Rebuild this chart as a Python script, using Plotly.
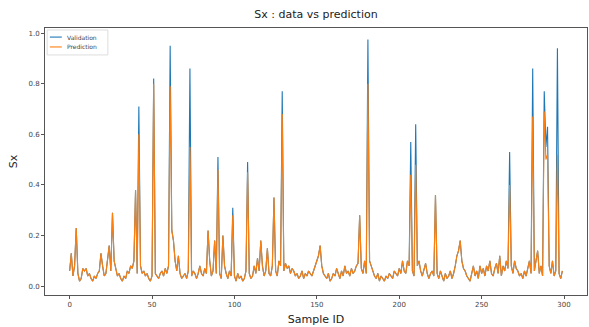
import plotly.graph_objects as go

sample_id = list(range(300))

validation = [
    0.06, 0.13, 0.04, 0.08, 0.23, 0.05, 0.02, 0.03, 0.07, 0.06,
    0.07, 0.04, 0.05, 0.03, 0.02, 0.04, 0.03, 0.05, 0.06, 0.13,
    0.08, 0.04, 0.05, 0.11, 0.16, 0.06, 0.29, 0.10, 0.07, 0.04,
    0.05, 0.03, 0.02, 0.04, 0.03, 0.06, 0.05, 0.08, 0.07, 0.10,
    0.38, 0.05, 0.71, 0.08, 0.05, 0.06, 0.04, 0.05, 0.03, 0.02,
    0.04, 0.82, 0.05, 0.04, 0.03, 0.05, 0.06, 0.04, 0.07, 0.05,
    0.08, 0.95, 0.22, 0.18, 0.10, 0.06, 0.12, 0.05, 0.03, 0.04,
    0.05, 0.03, 0.06, 0.86, 0.04, 0.06, 0.05, 0.03, 0.05, 0.08,
    0.05, 0.04, 0.07, 0.05, 0.22, 0.10, 0.04, 0.06, 0.18, 0.05,
    0.51, 0.05, 0.03, 0.20, 0.08, 0.05, 0.03, 0.06, 0.04, 0.31,
    0.04, 0.02, 0.05, 0.03, 0.04, 0.02, 0.03, 0.06, 0.49, 0.05,
    0.03, 0.04, 0.08, 0.05, 0.11, 0.06, 0.18, 0.08, 0.04, 0.06,
    0.15, 0.05, 0.04, 0.08, 0.35, 0.06, 0.04, 0.10, 0.08, 0.77,
    0.06, 0.09, 0.07, 0.08, 0.05, 0.07, 0.06, 0.04, 0.05, 0.03,
    0.04, 0.06, 0.03, 0.05, 0.04, 0.06, 0.05, 0.04, 0.06, 0.08,
    0.10, 0.12, 0.16, 0.08, 0.05, 0.04, 0.03, 0.05, 0.02, 0.03,
    0.05, 0.04, 0.07, 0.05, 0.03, 0.06, 0.04, 0.08, 0.05, 0.06,
    0.04, 0.07, 0.05, 0.06, 0.08, 0.09, 0.28, 0.07, 0.05, 0.10,
    0.05, 0.975, 0.10, 0.08, 0.06, 0.04, 0.03, 0.05, 0.02, 0.04,
    0.03, 0.02, 0.04, 0.03, 0.05, 0.04, 0.03, 0.06, 0.05, 0.04,
    0.07, 0.05, 0.10, 0.06, 0.05, 0.10, 0.08, 0.57, 0.06, 0.04,
    0.64, 0.08, 0.10, 0.06, 0.04, 0.07, 0.09, 0.05, 0.03, 0.05,
    0.06, 0.04, 0.36, 0.05, 0.03, 0.06, 0.04, 0.02, 0.05, 0.03,
    0.04, 0.06, 0.03, 0.05, 0.08, 0.12, 0.14, 0.18, 0.10, 0.07,
    0.06, 0.04, 0.03, 0.02, 0.05, 0.08, 0.04, 0.06, 0.03, 0.08,
    0.05, 0.07, 0.04, 0.08, 0.06, 0.10, 0.05, 0.04, 0.07, 0.09,
    0.05, 0.12, 0.04, 0.08, 0.06, 0.10, 0.07, 0.53, 0.08, 0.05,
    0.10, 0.07, 0.06, 0.04, 0.05, 0.03, 0.06, 0.04, 0.07, 0.10,
    0.05, 0.86, 0.06, 0.10, 0.14, 0.05, 0.08, 0.04, 0.77, 0.55,
    0.63, 0.08, 0.05, 0.10, 0.04, 0.06, 0.94, 0.05, 0.03, 0.06,
]

prediction = [
    0.06, 0.13, 0.04, 0.08, 0.23, 0.05, 0.02, 0.03, 0.07, 0.06,
    0.07, 0.04, 0.05, 0.03, 0.02, 0.04, 0.03, 0.05, 0.06, 0.13,
    0.08, 0.04, 0.05, 0.11, 0.16, 0.06, 0.29, 0.10, 0.07, 0.04,
    0.05, 0.03, 0.02, 0.04, 0.03, 0.06, 0.05, 0.08, 0.07, 0.10,
    0.38, 0.05, 0.60, 0.08, 0.05, 0.06, 0.04, 0.05, 0.03, 0.02,
    0.04, 0.80, 0.05, 0.04, 0.03, 0.05, 0.06, 0.04, 0.07, 0.05,
    0.08, 0.79, 0.22, 0.18, 0.10, 0.06, 0.12, 0.05, 0.03, 0.04,
    0.05, 0.03, 0.06, 0.55, 0.04, 0.06, 0.05, 0.03, 0.05, 0.08,
    0.05, 0.04, 0.07, 0.05, 0.22, 0.10, 0.04, 0.06, 0.18, 0.05,
    0.46, 0.05, 0.03, 0.20, 0.08, 0.05, 0.03, 0.06, 0.04, 0.28,
    0.04, 0.02, 0.05, 0.03, 0.04, 0.02, 0.03, 0.06, 0.45, 0.05,
    0.03, 0.04, 0.08, 0.05, 0.11, 0.06, 0.18, 0.08, 0.04, 0.06,
    0.15, 0.05, 0.04, 0.08, 0.35, 0.06, 0.04, 0.10, 0.08, 0.68,
    0.06, 0.09, 0.07, 0.08, 0.05, 0.07, 0.06, 0.04, 0.05, 0.03,
    0.04, 0.06, 0.03, 0.05, 0.04, 0.06, 0.05, 0.04, 0.06, 0.08,
    0.10, 0.12, 0.16, 0.08, 0.05, 0.04, 0.03, 0.05, 0.02, 0.03,
    0.05, 0.04, 0.07, 0.05, 0.03, 0.06, 0.04, 0.08, 0.05, 0.06,
    0.04, 0.07, 0.05, 0.06, 0.08, 0.09, 0.28, 0.07, 0.05, 0.10,
    0.05, 0.80, 0.10, 0.08, 0.06, 0.04, 0.03, 0.05, 0.02, 0.04,
    0.03, 0.02, 0.04, 0.03, 0.05, 0.04, 0.03, 0.06, 0.05, 0.04,
    0.07, 0.05, 0.10, 0.06, 0.05, 0.10, 0.08, 0.44, 0.06, 0.04,
    0.48, 0.08, 0.10, 0.06, 0.04, 0.07, 0.09, 0.05, 0.03, 0.05,
    0.06, 0.04, 0.36, 0.05, 0.03, 0.06, 0.04, 0.02, 0.05, 0.03,
    0.04, 0.06, 0.03, 0.05, 0.08, 0.12, 0.14, 0.18, 0.10, 0.07,
    0.06, 0.04, 0.03, 0.02, 0.05, 0.08, 0.04, 0.06, 0.03, 0.08,
    0.05, 0.07, 0.04, 0.08, 0.06, 0.10, 0.05, 0.04, 0.07, 0.09,
    0.05, 0.12, 0.04, 0.08, 0.06, 0.10, 0.07, 0.40, 0.08, 0.05,
    0.10, 0.07, 0.06, 0.04, 0.05, 0.03, 0.06, 0.04, 0.07, 0.10,
    0.05, 0.67, 0.06, 0.10, 0.14, 0.05, 0.08, 0.04, 0.69, 0.50,
    0.52, 0.08, 0.05, 0.10, 0.04, 0.06, 0.52, 0.05, 0.03, 0.06,
]

series_names = ["Validation", "Prediction"]
series_colors = ["#1f77b4", "#ff7f0e"]
x_ticks = [0, 50, 100, 150, 200, 250, 300]
y_ticks = [0.0, 0.2, 0.4, 0.6, 0.8, 1.0]

fig = go.Figure()
for name, vals, col in zip(series_names, [validation, prediction], series_colors):
    fig.add_trace(go.Scatter(x=sample_id, y=vals, mode="lines", name=name,
                             line=dict(color=col, width=1.1), showlegend=False))

axis_common = dict(showgrid=False, zeroline=False, showline=True, mirror=True,
                   linecolor="#555555", linewidth=1, ticks="outside", ticklen=3,
                   tickcolor="#555555", tickfont=dict(family="DejaVu Sans", size=7, color="#444444"))

# compact matplotlib-style legend (box, short line samples, labels)
shapes = [dict(type="rect", xref="paper", yref="paper", x0=0.004, x1=0.116, y0=0.899, y1=0.9925,
               line=dict(color="#dddddd", width=1), fillcolor="rgba(255,255,255,0.85)", layer="above")]
annotations = []
legend_y = [0.966, 0.929]
for name, col, ly in zip(series_names, series_colors, legend_y):
    shapes.append(dict(type="line", xref="paper", yref="paper", x0=0.009, x1=0.031, y0=ly, y1=ly,
                       line=dict(color=col, width=1.1), layer="above"))
    annotations.append(dict(text=name, xref="paper", yref="paper", x=0.037, y=ly, xanchor="left",
                            yanchor="middle", showarrow=False,
                            font=dict(family="DejaVu Sans", size=6, color="#444444")))

fig.update_layout(
    width=589, height=327,
    margin=dict(l=45, r=2, t=28, b=32),
    paper_bgcolor="white", plot_bgcolor="white",
    title=dict(text="Sx : data vs prediction", x=0.5365, xanchor="center", y=0.957, yanchor="middle",
               font=dict(family="DejaVu Sans", size=11, color="#222222")),
    xaxis=dict(range=[-14.95, 313.95], tickvals=x_ticks, title=dict(text="Sample ID", standoff=6,
               font=dict(family="DejaVu Sans", size=11, color="#222222")), **axis_common),
    yaxis=dict(range=[-0.035, 1.02], tickvals=y_ticks, tickformat=".1f",
               title=dict(text="Sx", standoff=8, font=dict(family="DejaVu Sans", size=11, color="#222222")),
               **axis_common),
    shapes=shapes,
    annotations=annotations,
    showlegend=False,
)

fig.write_html("out.html")
